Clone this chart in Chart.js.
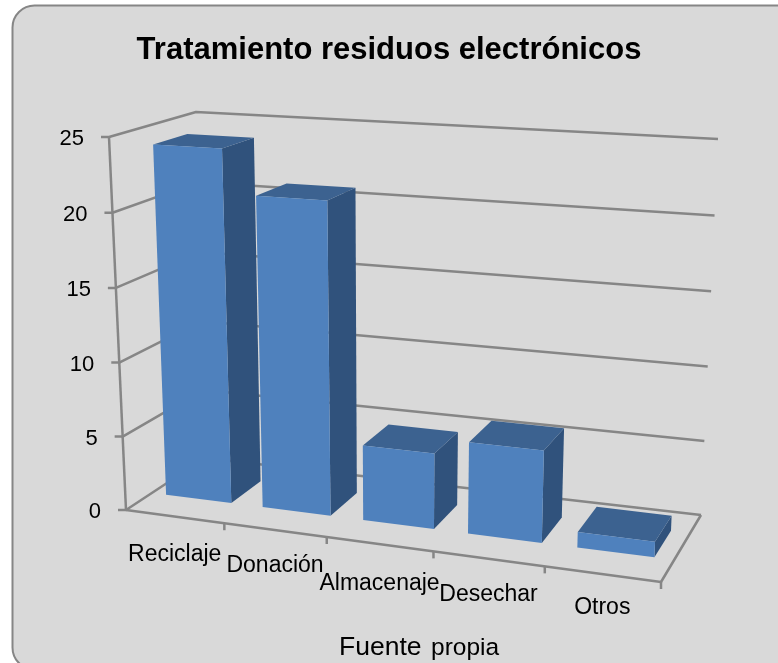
<!DOCTYPE html>
<html lang="es">
<head>
<meta charset="utf-8">
<title>Tratamiento residuos electrónicos</title>
<script src="https://cdn.jsdelivr.net/npm/chart.js@4"></script>
<style>
    html, body { margin: 0; padding: 0; background: #ffffff; overflow: hidden; }
    canvas { display: block; }
</style>
</head>
<body>
<canvas id="residuos" width="778" height="663"></canvas>
<script>
const categories = ['Reciclaje', 'Donación', 'Almacenaje', 'Desechar', 'Otros'];
const values = [24, 21, 5, 6, 1];
const valueMax = 25;
const valueStep = 5;

const FONT = '"Liberation Sans", Arial, sans-serif';
const GRID_COLOR = '#868686';
const FACE_FRONT = '#4f81bd';
const FACE_SIDE = '#30527c';
const FACE_TOP = '#3c6290';

// Screen position of the eight corners of the 3D plot box
const BOX = {
    frontBottomLeft: [126, 510], frontBottomRight: [661, 582],
    backBottomLeft: [205, 458], backBottomRight: [701, 515],
    frontTopLeft: [109, 137], frontTopRight: [677, 170],
    backTopLeft: [196, 112], backTopRight: [718, 139],
};
const BAR_DEPTH = [0.33, 0.73];
const BAR_SHIFT = -1.5;
const X_LABEL_DROP = [38, 36, 40, 36, 34];

function foreshorten(f, r) {
    return f / (f + (1 - f) * r);
}

function lerp(a, b, t) {
    return [a[0] + (b[0] - a[0]) * t, a[1] + (b[1] - a[1]) * t];
}

/**
 * Map a flat chart position (scale pixels) plus a depth (0 front, 1 back)
 * onto the perspective box
 */
function project(chart, px, py, depth) {
    const area = chart.chartArea;
    const u = foreshorten((px - area.left) / area.width, 1.11);
    const v = foreshorten((area.bottom - py) / area.height, 1.02);
    const bottom = lerp(lerp(BOX.frontBottomLeft, BOX.frontBottomRight, u), lerp(BOX.backBottomLeft, BOX.backBottomRight, u), depth);
    const top = lerp(lerp(BOX.frontTopLeft, BOX.frontTopRight, u), lerp(BOX.backTopLeft, BOX.backTopRight, u), depth);
    return lerp(bottom, top, v);
}

function strokePath(ctx, points) {
    ctx.beginPath();
    points.forEach((p, i) => (i ? ctx.lineTo(p[0], p[1]) : ctx.moveTo(p[0], p[1])));
    ctx.stroke();
}

function fillFace(ctx, points, color) {
    ctx.fillStyle = color;
    ctx.beginPath();
    points.forEach((p, i) => (i ? ctx.lineTo(p[0], p[1]) : ctx.moveTo(p[0], p[1])));
    ctx.closePath();
    ctx.fill();
}

function drawText(ctx, text, x, y, font, align, baseline = 'middle') {
    ctx.font = font;
    ctx.textAlign = align;
    ctx.textBaseline = baseline;
    ctx.fillStyle = '#000000';
    ctx.fillText(text, x, y);
}

/**
 * Walls, floor, axis ticks and their labels
 */
function drawFrame(chart) {
    const { ctx, chartArea: area, scales: { x, y } } = chart;
    ctx.save();
    ctx.strokeStyle = GRID_COLOR;
    ctx.lineWidth = 2.5;
    ctx.lineJoin = 'round';

    // Gridlines run along the left wall and then across the back wall
    y.ticks.forEach((tick) => {
        const py = y.getPixelForValue(tick.value);
        const front = project(chart, area.left, py, 0);
        strokePath(ctx, [
            [front[0] - 8, front[1]],
            front,
            project(chart, area.left, py, 1),
            project(chart, area.right, py, 1),
        ]);
        drawText(ctx, String(tick.value), front[0] - 25, front[1] + 2, `22px ${FONT}`, 'right');
    });

    // Vertical axis and floor outline
    strokePath(ctx, [project(chart, area.left, area.top, 0), project(chart, area.left, area.bottom, 0)]);
    strokePath(ctx, [
        project(chart, area.left, area.bottom, 0),
        project(chart, area.right, area.bottom, 0),
        project(chart, area.right, area.bottom, 1),
    ]);

    // Category ticks sit on the boundaries between categories
    const step = area.width / categories.length;
    categories.forEach((name, i) => {
        const edge = project(chart, area.left + step * (i + 1), area.bottom, 0);
        strokePath(ctx, [edge, [edge[0], edge[1] + 7]]);
        const mid = project(chart, x.getPixelForValue(i), area.bottom, 0);
        drawText(ctx, name, mid[0], mid[1] + X_LABEL_DROP[i], `23px ${FONT}`, 'center');
    });
    ctx.restore();
}

/**
 * One box per bar element, built from the element's own scale positions
 */
function drawBars(chart) {
    const { ctx } = chart;
    const [near, far] = BAR_DEPTH;
    chart.getDatasetMeta(0).data.forEach((bar) => {
        const left = bar.x - bar.width / 2 + BAR_SHIFT;
        const right = bar.x + bar.width / 2 + BAR_SHIFT;
        const corner = (px, py, d) => project(chart, px, py, d);

        fillFace(ctx, [corner(right, bar.base, near), corner(right, bar.base, far), corner(right, bar.y, far), corner(right, bar.y, near)], FACE_SIDE);
        fillFace(ctx, [corner(left, bar.y, near), corner(right, bar.y, near), corner(right, bar.y, far), corner(left, bar.y, far)], FACE_TOP);
        fillFace(ctx, [corner(left, bar.base, near), corner(right, bar.base, near), corner(right, bar.y, near), corner(left, bar.y, near)], FACE_FRONT);
    });
}

const box3dPlugin = {
    id: 'box3d',
    beforeDraw(chart) {
        const { ctx } = chart;
        ctx.save();
        // Rounded panel, running off the right and bottom of the canvas
        ctx.beginPath();
        ctx.roundRect(12.5, 5.5, 800, 664, 22);
        ctx.fillStyle = '#d9d9d9';
        ctx.fill();
        ctx.strokeStyle = GRID_COLOR;
        ctx.lineWidth = 2;
        ctx.stroke();
        ctx.restore();
    },
    beforeDatasetsDraw(chart) {
        drawFrame(chart);
        drawBars(chart);
        return false;
    },
    afterDraw(chart) {
        const { ctx } = chart;
        ctx.save();
        drawText(ctx, 'Fuente', 339, 655, `26.5px ${FONT}`, 'left', 'alphabetic');
        drawText(ctx, 'propia', 431, 655, `24.5px ${FONT}`, 'left', 'alphabetic');
        ctx.restore();
    },
};

new Chart(document.getElementById('residuos'), {
    type: 'bar',
    data: {
        labels: categories,
        datasets: [{
            label: 'Tratamiento residuos electrónicos',
            data: values,
            backgroundColor: FACE_FRONT,
            categoryPercentage: 1,
            barPercentage: 0.68,
        }],
    },
    options: {
        responsive: false,
        animation: false,
        layout: { padding: { left: 60, right: 60, bottom: 90 } },
        plugins: {
            legend: { display: false },
            tooltip: { enabled: false },
            title: {
                display: true,
                text: 'Tratamiento residuos electrónicos',
                color: '#000000',
                font: { family: FONT, size: 31, weight: 'bold' },
                padding: { top: 32, bottom: 40 },
            },
        },
        scales: {
            x: { display: false },
            y: { display: false, min: 0, max: valueMax, ticks: { stepSize: valueStep } },
        },
    },
    plugins: [box3dPlugin],
});
</script>
</body>
</html>
